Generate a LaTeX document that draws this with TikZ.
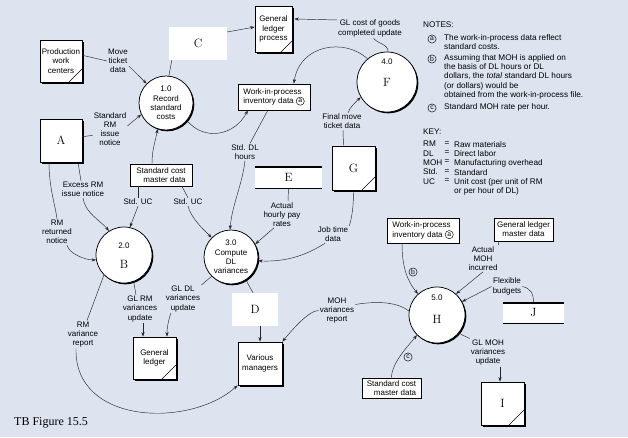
\documentclass[tikz,border=0pt]{standalone}
\usepackage{fontspec}
\setsansfont{Liberation Sans}
\newfontfamily\tbserif{Liberation Serif}
\usetikzlibrary{arrows.meta,shadows,calc}
\definecolor{bgc}{RGB}{221,228,240}
\newsavebox\cAbox
\newsavebox\cBbox
\newsavebox\cCbox
\newcommand\circA{\usebox\cAbox}
\newcommand\circB{\usebox\cBbox}
\newcommand\circC{\usebox\cCbox}
\newcommand\makecirc[1]{\begin{pgfpicture}\pgfsetbaseline{0pt}\pgfsetlinewidth{0.45pt}\pgfpathcircle{\pgfpoint{0pt}{2.4pt}}{4.1pt}\pgfusepath{stroke}\pgftext[at=\pgfpoint{0pt}{2.4pt}]{\sffamily\fontsize{6.8}{6.8}\selectfont #1}\end{pgfpicture}}
\newcommand\bigrm{\rmfamily\fontsize{12}{12}\selectfont}
\begin{document}
\sbox\cAbox{\makecirc{a}}%
\sbox\cBbox{\makecirc{b}}%
\sbox\cCbox{\makecirc{c}}%
\begin{tikzpicture}[x=1pt,y=-1pt,
  font=\sffamily\fontsize{8}{9.2}\selectfont,
  ln/.style={draw=black!85, line width=0.45pt},
  arr/.style={ln, -{Stealth[length=4.5pt,width=3.2pt]}},
  lbl/.style={align=center, inner sep=1pt},
  ent/.style={draw, fill=white, line width=0.75pt, inner sep=1pt, align=center,
    drop shadow={shadow xshift=2pt, shadow yshift=-2pt, fill=black, opacity=1}},
  corner/.style={path picture={\draw[line width=0.6pt] ([xshift=-#1]path picture bounding box.south east) -- ([yshift=#1]path picture bounding box.south east);}},
  proc/.style={circle, draw, fill=white, line width=0.75pt, inner sep=0pt, align=center,
    drop shadow={shadow xshift=1.3pt, shadow yshift=-1.3pt, fill=black, opacity=1}},
  dbox/.style={draw, fill=white, line width=0.7pt, inner sep=1.5pt,
    drop shadow={shadow xshift=1pt, shadow yshift=-1pt, fill=black, opacity=1}},
  store/.style={fill=white, inner sep=0pt, font=\bigrm},
  ph/.style={fill=white, inner sep=0pt, font=\bigrm},
  stoplines/.style={line width=1.4pt},
  sbotline/.style={line width=1.1pt},
  notefont/.style={font=\sffamily\fontsize{8.2}{9.3}\selectfont}
]
\fill[bgc] (0,0) rectangle (628,437);
\useasboundingbox (0,0) rectangle (628,437);

% ---------- entities ----------
\node[ent, corner=13pt, minimum width=42pt, minimum height=42pt] (pwc) at (61,61) {Production\\work\\centers};
\node[ent, minimum width=42pt, minimum height=43pt, font=\bigrm] (A) at (61,140.5) {A};
\node[ent, corner=11pt, minimum width=37pt, minimum height=46pt] (glp) at (273.5,29) {General\\ledger\\process};
\node[ent, corner=13pt, minimum width=43pt, minimum height=44pt, font=\bigrm] (G) at (353.5,168) {G};
\node[ent, corner=14pt, minimum width=43pt, minimum height=42pt] (gl) at (154.5,358) {General\\ledger};
\node[ent, minimum width=44pt, minimum height=43pt] (vm) at (260,363.5) {Various\\managers};
\node[ent, corner=15pt, minimum width=43pt, minimum height=43pt, font=\bigrm] (I) at (502.5,403.5) {I};

% ---------- placeholders ----------
\node[ph, minimum width=58pt, minimum height=33pt] (C) at (198,43.5) {C};
\node[ph, minimum width=46pt, minimum height=33pt] (D) at (255,309.5) {D};

% ---------- data stores ----------
\node[store, minimum width=67pt, minimum height=21pt] (E) at (288.5,177.5) {E};
\draw[stoplines] (E.north west) -- (E.north east);
\draw[sbotline] (E.south west) -- (E.south east);
\node[store, minimum width=61pt, minimum height=20pt] (J) at (533.5,313) {J};
\draw[stoplines] (J.north west) -- (J.north east);
\draw[sbotline] (J.south west) -- (J.south east);

% ---------- boxes ----------
\node[dbox, align=right, minimum width=62pt, minimum height=22pt] (scm1) at (161,175) {Standard cost\\master data};
\node[dbox, align=left, minimum width=72pt, minimum height=26pt] (wip1) at (274,97) {Work-in-process\\inventory data \circA};
\node[dbox, align=left, minimum width=72pt, minimum height=25pt] (wip2) at (423,230.5) {Work-in-process\\inventory data \circA};
\node[dbox, align=center, minimum width=59pt, minimum height=23pt] (glmd) at (523.5,229.5) {General ledger\\master data};
\node[dbox, align=right, minimum width=59pt, minimum height=20pt] (scm2) at (391.5,388) {Standard cost\\master data};

% ---------- processes ----------
\node[proc, minimum size=54pt] (p1) at (166,103) {1.0\\Record\\standard\\costs};
\node[proc, minimum size=56pt] (p2) at (124,255) {};
\node[lbl] (p2n) at (124,246) {2.0};
\node[lbl, font=\bigrm] (p2l) at (124,264) {B};
\node[proc, minimum size=54pt] (p3) at (231,257) {3.0\\Compute\\DL\\variances};
\node[proc, minimum size=60pt] (p4) at (387,82) {};
\node[lbl] (p4n) at (387,62) {4.0};
\node[lbl, font=\bigrm] (p4l) at (387,82) {F};
\node[proc, minimum size=56pt] (p5) at (437,315) {};
\node[lbl] (p5n) at (437,298) {5.0};
\node[lbl, font=\bigrm] (p5l) at (437,319) {H};

% ---------- labels ----------
\node[lbl] (mtd) at (118,61) {Move\\ticket\\data};
\node[lbl] (srm) at (110,129) {Standard\\RM\\issue\\notice};
\node[lbl] (gcl) at (370,28.5) {GL cost of goods\\completed update};
\node[lbl] (sdl) at (245,152) {Std. DL\\hours};
\node[lbl] (suc1) at (138,202) {Std. UC};
\node[lbl] (suc2) at (188,202) {Std. UC};
\node[lbl] (ern) at (83,189.5) {Excess RM\\issue notice};
\node[lbl] (rrn) at (57,232) {RM\\returned\\notice};
\node[lbl] (ahpr) at (282,214.5) {Actual\\hourly pay\\rates};
\node[lbl] (fmtd) at (342,121.5) {Final move\\ticket data};
\node[lbl] (jtd) at (333,234.5) {Job time\\data};
\node[lbl] (glrm) at (140,309) {GL RM\\variances\\update};
\node[lbl] (gldl) at (183,299) {GL DL\\variances\\update};
\node[lbl] (rmvr) at (83,334.5) {RM\\variance\\report};
\node[lbl] (mohvr) at (337,310.5) {MOH\\variances\\report};
\node[lbl] (amoh) at (483,258.5) {Actual\\MOH\\incurred};
\node[lbl] (flex) at (507,286.5) {Flexible\\budgets};
\node[lbl] (glmoh) at (488,352.5) {GL MOH\\variances\\update};
\node[lbl] (lb) at (413,272) {\circB};
\node[lbl] (lc) at (408,357) {\circC};

% ---------- connectors ----------
\draw[ln] (pwc.15) -- (mtd.west);
\draw[arr] (mtd.-25) -- (p1.135);
\draw[ln] (A.10) -- (srm.200);
\draw[arr] (srm.10) -- (p1.205);
\draw[ln] ([xshift=3pt]C.south west) -- (p1.84);
\draw[arr] ([yshift=11.5pt]C.east) -- ([yshift=2pt]glp.east -| glp.west);
\draw[ln] (p4.88) .. controls +(0,-8) and +(4,6) .. (gcl.-70);
\draw[arr] ([yshift=-1pt]gcl.north west) -- ([xshift=2pt]glp.east |- gcl.north west);
\draw[arr] (p4.130) .. controls (345,38) and (300,44) .. (wip1.34);
\draw[arr] (p1.-40) .. controls (205,142) and (235,135) .. (wip1.207);
\draw[ln] (wip1.-115) -- (sdl.60);
\draw[arr] (sdl.south) .. controls +(-3,25) and +(2,-25) .. (p3.92);
\draw[arr] ([xshift=-9pt]scm1.north) .. controls +(0,-15) and +(-2,12) .. (p1.-108);
\draw[ln] (suc1.north |- scm1.south) -- (suc1.north);
\draw[arr] (suc1.south) -- (p2.78);
\draw[ln] ([xshift=21pt]scm1.south) -- (suc2.north);
\draw[arr] (suc2.south) .. controls +(3,12) and +(-8,-8) .. (p3.135);
\draw[ln] ([xshift=17pt]A.south) -- ([xshift=-2pt]ern.north);
\draw[arr] (ern.south) .. controls +(2,15) and +(-8,-10) .. (p2.122);
\draw[ln] ([xshift=-12pt]A.south) .. controls +(0,25) and +(-2,-15) .. (rrn.north);
\draw[arr] ([xshift=10pt]rrn.south) .. controls +(2,8) and +(-12,0) .. (p2.190);
\draw[ln] (p2.-70) -- ([xshift=-4pt]glrm.north);
\draw[arr] ([xshift=3pt]glrm.south) -- ([xshift=3pt]glrm.south |- gl.north);
\draw[ln] (p3.-135) -- (gldl.north east);
\draw[arr] ([xshift=-12pt]gldl.south) .. controls +(-3,8) and +(0,-8) .. ([xshift=12.5pt]gl.north);
\draw[ln] (p2.-135) -- ([xshift=4pt]rmvr.north);
\draw[arr] ([xshift=-7pt]rmvr.south) .. controls (74,425) and (190,428) .. (vm.south west);
\draw[ln] (p3.-57) -- ([xshift=-2pt]D.north);
\draw[arr] (D.south -| vm.north) -- (vm.north);
\draw[ln] (p5.172) .. controls (395,300) and (370,302) .. ([yshift=6pt]mohvr.east);
\draw[arr] (mohvr.west) .. controls +(-10,0) and +(10,-12) .. (vm.north east);
\draw[arr] ([xshift=-21pt]wip2.south) .. controls +(0,25) and +(-10,-12) .. (p5.132);
\draw[ln] ([xshift=-25pt]glmd.south) -- (amoh.north east);
\draw[arr] (amoh.south) -- (p5.48);
\draw[arr] (flex.west) -- (p5.28);
\draw[ln] (flex.east) .. controls +(8,2) and +(0,-10) .. (J.north);
\draw[ln] (p5.-40) -- (glmoh.north west);
\draw[arr] ([xshift=12pt]glmoh.south) -- ([xshift=12pt]glmoh.south |- I.north);
\draw[arr] (scm2.north) .. controls +(0,-15) and +(-8,10) .. (p5.-135);
\draw[ln] ([xshift=-10pt]G.north) -- ([xshift=1pt]fmtd.south);
\draw[arr] ([xshift=6pt]fmtd.north) .. controls +(2,-6) and +(-5,5) .. (p4.-150);
\draw[ln] (G.south) .. controls +(0,15) and +(3,-10) .. (jtd.north east);
\draw[arr] ([xshift=-8pt]jtd.south) .. controls (305,256) and (285,262) .. (p3.-8);
\draw[ln] (E.south) -- ([xshift=6pt]ahpr.north);
\draw[arr] ([xshift=-8pt]ahpr.south) -- (p3.28);

% ---------- notes ----------
\node[notefont, anchor=west, inner sep=0] (notes) at (423,25) {NOTES:};
\node[inner sep=0] (na) at (432,39) {\circA};
\node[notefont, anchor=north west, align=left, inner sep=0] (nta) at (444,34) {The work-in-process data reflect\\standard costs.};
\node[inner sep=0] (nb) at (432,59) {\circB};
\node[notefont, anchor=north west, align=left, inner sep=0] (ntb) at (444,54) {Assuming that MOH is applied on\\the basis of DL hours or DL\\dollars, the \textit{total} standard DL hours\\(or dollars) would be\\obtained from the work-in-process file.};
\node[inner sep=0] (nc) at (432,108) {\circC};
\node[notefont, anchor=north west, align=left, inner sep=0] (ntc) at (444,103) {Standard MOH rate per hour.};
\node[notefont, anchor=west, inner sep=0] (key) at (423,132) {KEY:};
\node[notefont, anchor=north west, align=left, inner sep=0] (k1) at (423,141) {RM\\DL\\MOH\\Std.\\UC};
\node[notefont, anchor=north west, align=left, inner sep=0] (k2) at (444.5,141) {=\\=\\=\\=\\=};
\node[notefont, anchor=north west, align=left, inner sep=0] (k3) at (454,141) {Raw materials\\Direct labor\\Manufacturing overhead\\Standard\\Unit cost (per unit of RM\\or per hour of DL)};

\node[anchor=west, inner sep=0, font=\tbserif\fontsize{12}{12}\selectfont] (tb) at (14,423) {TB Figure 15.5};
\end{tikzpicture}
\end{document}
